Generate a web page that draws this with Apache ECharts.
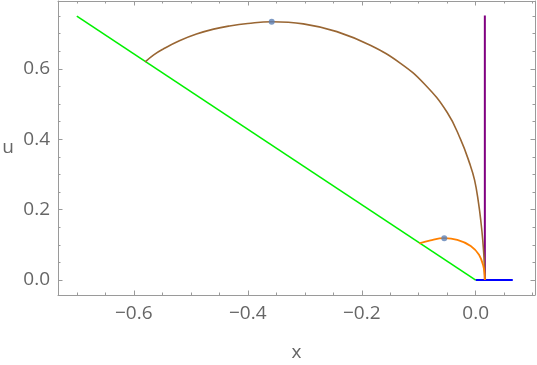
<!DOCTYPE html>
<html>
<head>
<meta charset="utf-8">
<script src="https://cdn.jsdelivr.net/npm/echarts@6/dist/echarts.min.js"></script>
<style>
  html, body { margin: 0; padding: 0; background: #fff; }
  #chart { width: 537px; height: 365px; }
</style>
</head>
<body>
<div id="chart"></div>
<script>
// axis ranges and ticks
const xRange = [-0.733, 0.104]
const yRange = [-0.0425, 0.793]
const xMajor = [-0.6, -0.4, -0.2, 0]
const xMinor = [-0.7, -0.65, -0.6, -0.55, -0.5, -0.45, -0.4, -0.35, -0.3, -0.25, -0.2, -0.15, -0.1, -0.05, 0, 0.05, 0.1]
const yMajor = [0, 0.2, 0.4, 0.6]
const yMinor = [0, 0.05, 0.1, 0.15, 0.2, 0.25, 0.3, 0.35, 0.4, 0.45, 0.5, 0.55, 0.6, 0.65, 0.7, 0.75]

// curves
const greenLine = [[-0.7, 0.75], [0, 0]]
const blueLine = [[0, 0], [0.065, 0]]
const purpleLine = [[0.016, 0], [0.016, 0.752]]
const brownArc = [
  [-0.58, 0.62], [-0.565, 0.64], [-0.549, 0.656], [-0.52, 0.68], [-0.49, 0.699], [-0.46, 0.713],
  [-0.432, 0.722], [-0.40, 0.729], [-0.358, 0.734], [-0.3025, 0.728], [-0.2437, 0.706],
  [-0.185, 0.667], [-0.132, 0.616], [-0.09, 0.557], [-0.05, 0.476], [-0.0264, 0.399],
  [-0.011, 0.333], [-0.002, 0.284], [0.005, 0.218], [0.0095, 0.16], [0.0125, 0.11],
  [0.0147, 0.06], [0.0157, 0.025], [0.016, 0]
]
const orangeArc = [
  [-0.099, 0.104], [-0.0793, 0.113], [-0.0552, 0.119], [-0.0323, 0.114], [-0.0088, 0.097],
  [0.0058, 0.0717], [0.0135, 0.0386], [0.0155, 0.015], [0.016, 0]
]
const peaks = [[-0.358, 0.734], [-0.0552, 0.119]]

const frameColor = "#9a9a9a"
const labelStyle = { color: "#666", fontSize: 19, fontFamily: "Open Sans" }

function xAxisOf(pos, ticks, len, withLine, withLabel) {
  return {
    type: "value", position: pos, min: xRange[0], max: xRange[1],
    axisLine: { show: withLine, onZero: false, lineStyle: { color: frameColor, width: 1 } },
    axisTick: { show: true, inside: true, length: len, customValues: ticks, lineStyle: { color: frameColor } },
    axisLabel: withLabel ? Object.assign({
      show: true, margin: 9, customValues: xMajor,
      formatter: v => (v < 0 ? "\u2212" : "") + Math.abs(v).toFixed(1)
    }, labelStyle) : { show: false },
    splitLine: { show: false }
  }
}

function yAxisOf(pos, ticks, len, withLine, withLabel) {
  return {
    type: "value", position: pos, min: yRange[0], max: yRange[1],
    axisLine: { show: withLine, onZero: false, lineStyle: { color: frameColor, width: 1 } },
    axisTick: { show: true, inside: true, length: len, customValues: ticks, lineStyle: { color: frameColor } },
    axisLabel: withLabel ? Object.assign({
      show: true, margin: 8, customValues: yMajor,
      formatter: v => v.toFixed(1)
    }, labelStyle) : { show: false },
    splitLine: { show: false }
  }
}

const xAxes = [
  xAxisOf("bottom", xMajor, 4.5, true, true),
  xAxisOf("bottom", xMinor, 2.5, false, false),
  xAxisOf("top", xMajor, 4.5, true, false),
  xAxisOf("top", xMinor, 2.5, false, false)
]
Object.assign(xAxes[0], { name: "x", nameLocation: "middle", nameGap: 48, nameTextStyle: labelStyle })

const yAxes = [
  yAxisOf("left", yMajor, 4.5, true, true),
  yAxisOf("left", yMinor, 2.5, false, false),
  yAxisOf("right", yMajor, 4.5, true, false),
  yAxisOf("right", yMinor, 2.5, false, false)
]
Object.assign(yAxes[0], { name: "u", nameLocation: "middle", nameGap: 44, nameRotate: 0, nameTextStyle: labelStyle })

function lineSeries(data, color, width, smooth) {
  return {
    type: "line", data: data, showSymbol: false, symbol: "none",
    smooth: smooth || false,
    lineStyle: { color: color, width: width }, z: 2
  }
}

const myChart = echarts.init(document.getElementById("chart"))
myChart.setOption({
  animation: false,
  grid: { left: 58, right: 2, top: 1, bottom: 70, outerBoundsMode: "none" },
  xAxis: xAxes,
  yAxis: yAxes,
  series: [
    lineSeries(greenLine, "#00f000", 1.6),
    lineSeries(blueLine, "#0000ff", 2),
    lineSeries(purpleLine, "#800080", 2),
    lineSeries(brownArc, "#996633", 1.6, 0.45),
    lineSeries(orangeArc, "#ff8000", 1.8, 0.4),
    {
      type: "scatter", data: peaks, symbolSize: 6,
      itemStyle: { color: "#5e81b5" }, z: 5
    }
  ]
})
</script>
</body>
</html>
